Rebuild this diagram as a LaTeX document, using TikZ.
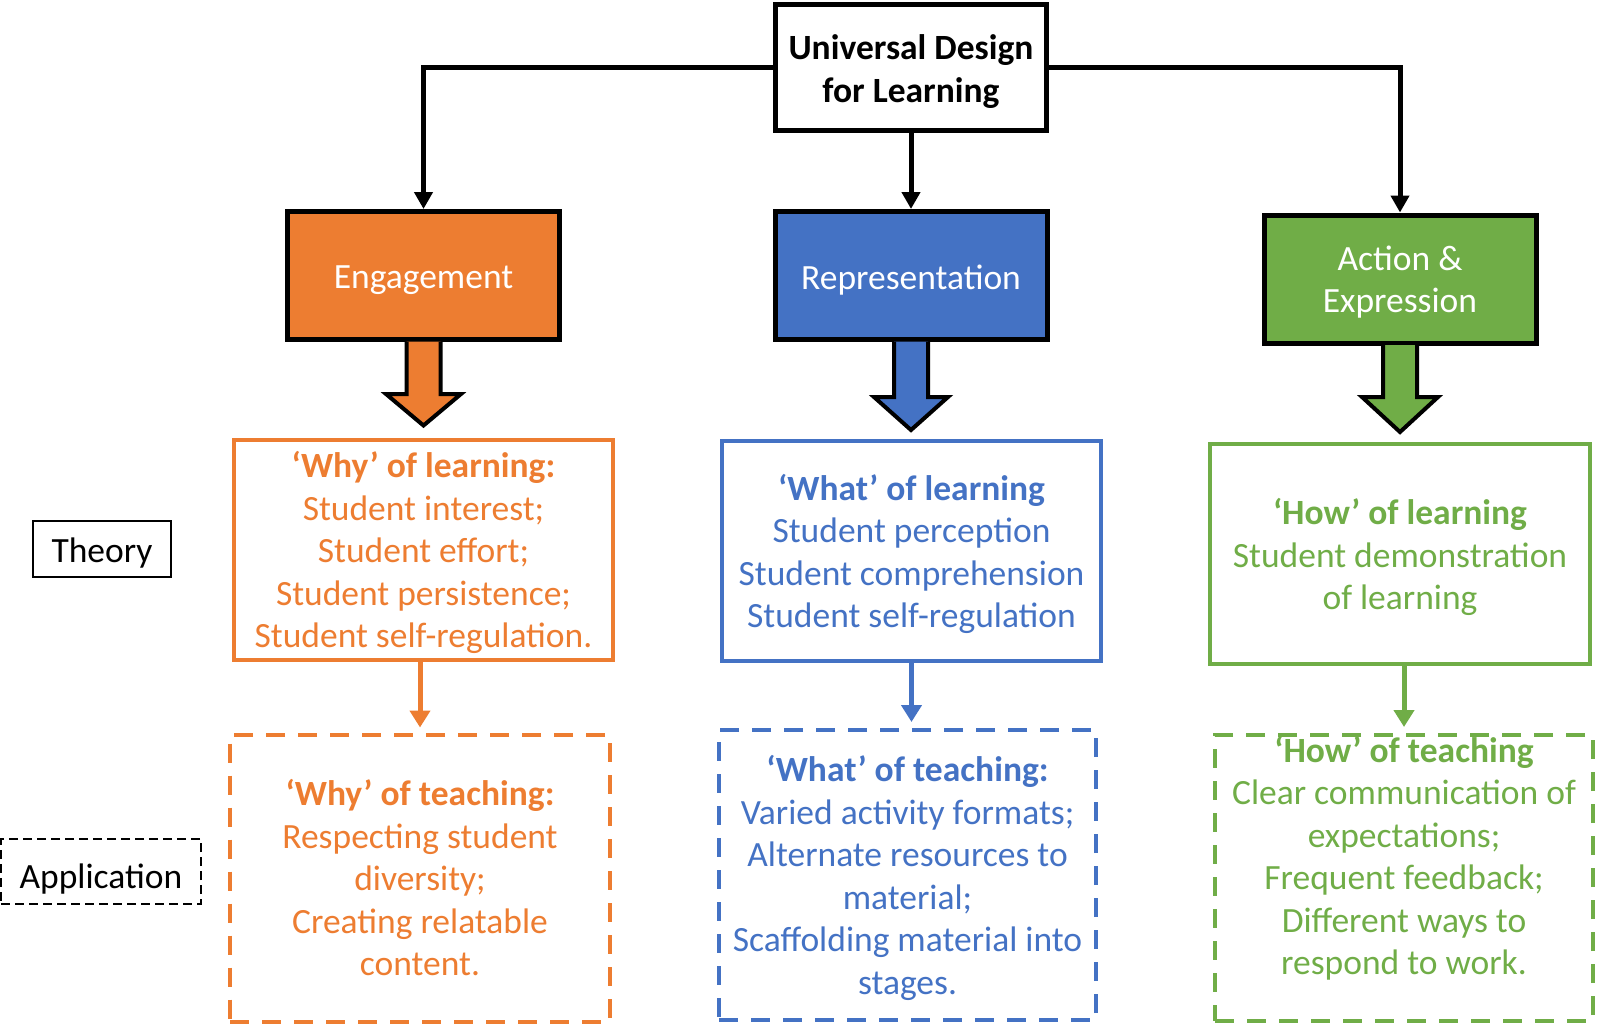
\documentclass[tikz,border=0pt]{standalone}
\usepackage{fontspec}
\setmainfont{Carlito}
\usetikzlibrary{arrows.meta}
\definecolor{uorange}{HTML}{ED7D31}
\definecolor{ublue}{HTML}{4472C4}
\definecolor{ugreen}{HTML}{70AD47}
\begin{document}
\begin{tikzpicture}[x=1pt,y=-1pt,
  every node/.style={font=\fontsize{35.5}{42.5}\selectfont, align=center, inner sep=0pt, outer sep=0pt},
  topbox/.style={draw=black, line width=5pt, fill=white, minimum width=271pt, minimum height=126pt},
  catbox/.style={draw=black, line width=5pt, fill=#1, minimum width=272pt, minimum height=128pt},
  theorybox/.style={draw=#1, line width=4pt, minimum width=379pt, minimum height=220pt},
  appbox/.style={draw=#1, line width=4pt, dash pattern=on 19pt off 13pt, minimum width=379pt, minimum height=287pt},
  conn/.style={draw=black, line width=5pt, -{Triangle[width=18pt,length=17pt]}, shorten >=2.5pt},
  subarrow/.style={draw=#1, line width=5pt, -{Triangle[width=20pt,length=17pt]}},
  fatarrow/.style={draw=black, line width=4pt, fill=#1, line join=miter},
  labelbox/.style={draw=black, line width=2.5pt}
]
\useasboundingbox (0,0) rectangle (1600,1025);

% top
\node[topbox] (udl) at (911,67.5) {};
\node[font=\fontsize{35.5}{42.5}\selectfont\bfseries, yshift=-4pt] (udltext) at (udl.center) {Universal Design\\for Learning};

% categories
\node[catbox=uorange] (eng) at (423.5,275.5) {};
\node[text=white, yshift=-5pt] (engtext) at (eng.center) {Engagement};
\node[catbox=ublue] (rep) at (911,275.5) {};
\node[text=white, yshift=-5pt] (reptext) at (rep.center) {Representation};
\node[catbox=ugreen] (act) at (1400,279) {};
\node[text=white, yshift=-3pt] (acttext) at (act.center) {Action \&\\Expression};

\draw[conn] (udl.west) -| (eng.north);
\draw[conn] (udl.south) -- (rep.north);
\draw[conn] (udl.east) -| (act.north);

% fat arrows
\draw[fatarrow=uorange, shift={(eng.south)}] (-17,2) -- (-17,54.5) -- (-37.5,54.5) -- (0,86) -- (37.5,54.5) -- (17,54.5) -- (17,2);
\draw[fatarrow=ublue, shift={(rep.south)}] (-17,2) -- (-17,57.5) -- (-37,57.5) -- (0,90.5) -- (37,57.5) -- (17,57.5) -- (17,2);
\draw[fatarrow=ugreen, shift={(act.south)}] (-17,2) -- (-17,54) -- (-38,54) -- (0,89) -- (38,54) -- (17,54) -- (17,2);

% theory boxes
\node[theorybox=uorange] (osol) at (423.5,549.5) {};
\node[text=uorange, yshift=-3pt] (osoltext) at (osol.center) {\textbf{‘Why’ of learning:}\\Student interest;\\Student effort;\\Student persistence;\\Student self-regulation.};
\node[theorybox=ublue] (bsol) at (911.5,551) {};
\node[text=ublue, yshift=-3pt] (bsoltext) at (bsol.center) {\textbf{‘What’ of learning}\\Student perception\\Student comprehension\\Student self-regulation};
\node[theorybox=ugreen, minimum width=380pt] (gsol) at (1400,554) {};
\node[text=ugreen, yshift=-3pt] (gsoltext) at (gsol.center) {\textbf{‘How’ of learning}\\Student demonstration\\of learning};

% application boxes
\node[appbox=uorange, minimum width=380pt] (odash) at (420,878) {};
\node[text=uorange] (odashtext) at (odash.center) {\textbf{‘Why’ of teaching:}\\Respecting student\\diversity;\\Creating relatable\\content.};
\node[appbox=ublue, minimum width=377pt, minimum height=290pt] (bdash) at (907.5,875) {};
\node[text=ublue, yshift=-3pt] (bdashtext) at (bdash.center) {\textbf{‘What’ of teaching:}\\Varied activity formats;\\Alternate resources to\\material;\\Scaffolding material into\\stages.};
\node[appbox=ugreen, minimum width=378pt, minimum height=286pt] (gdash) at (1404,878) {};
\node[text=ugreen, yshift=20pt] (gdtext) at (gdash.center) {\textbf{‘How’ of teaching}\\Clear communication of\\expectations;\\Frequent feedback;\\Different ways to\\respond to work.};

\draw[subarrow=uorange, shorten >=7pt] (odash.north |- osol.south) -- (odash.north);
\draw[subarrow=ublue, shorten >=8pt] (bsol.south) -- (bsol.south |- bdash.north);
\draw[subarrow=ugreen, shorten >=8pt] (gdash.north |- gsol.south) -- (gdash.north);

% side labels
\node[labelbox, minimum width=138pt, minimum height=56pt] (theory) at (102,549) {};
\node[anchor=base] (theorytext) at (102,562) {Theory};
\node[labelbox, dash pattern=on 9pt off 5pt, minimum width=200pt, minimum height=65pt] (app) at (101,871.5) {};
\node[anchor=base] (apptext) at (101,888) {Application};
\end{tikzpicture}
\end{document}
